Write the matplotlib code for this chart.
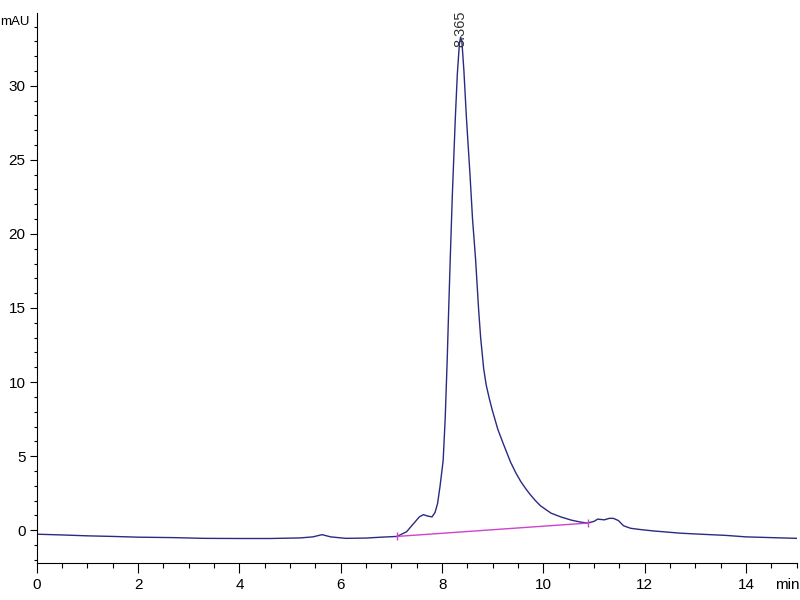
import matplotlib.pyplot as plt
from matplotlib.ticker import MultipleLocator

# chromatogram trace (time in min, signal in mAU)
time_min = [0.0, 0.5, 1.0, 1.5, 2.0, 2.7, 3.3, 4.0, 4.6, 5.2, 5.45, 5.63, 5.8, 6.1,
            6.5, 6.8, 7.11, 7.3, 7.45, 7.55, 7.63, 7.72, 7.8, 7.86, 7.91, 7.96,
            8.02, 8.06, 8.10, 8.13, 8.16, 8.20, 8.26, 8.30, 8.34, 8.365, 8.39,
            8.43, 8.48, 8.55, 8.60, 8.66, 8.72, 8.76, 8.82, 8.87, 8.93, 8.99,
            9.10, 9.20, 9.35, 9.45, 9.55, 9.65, 9.74, 9.84, 9.94, 10.15, 10.34,
            10.55, 10.73, 10.87, 11.0, 11.07, 11.2, 11.3, 11.38, 11.48, 11.58,
            11.72, 11.9, 12.17, 12.7, 13.1, 13.6, 14.0, 14.5, 15.0]
signal_mau = [-0.27, -0.32, -0.38, -0.42, -0.47, -0.5, -0.55, -0.56, -0.56, -0.52,
              -0.45, -0.3, -0.45, -0.55, -0.53, -0.47, -0.42, -0.1, 0.5, 0.9,
              1.05, 0.95, 0.9, 1.2, 1.8, 3.0, 4.7, 7.5, 11.5, 15.0, 18.3, 22.5,
              27.8, 30.8, 32.8, 33.3, 33.0, 31.0, 27.8, 24.0, 21.0, 18.3, 14.9,
              13.0, 10.9, 9.8, 8.9, 8.1, 6.8, 5.9, 4.6, 3.9, 3.3, 2.8, 2.4, 2.0,
              1.65, 1.15, 0.9, 0.68, 0.55, 0.48, 0.6, 0.75, 0.7, 0.8, 0.8, 0.65,
              0.3, 0.13, 0.05, -0.05, -0.2, -0.27, -0.35, -0.45, -0.5, -0.55]

# integration baseline of the main peak
base_time = [7.11, 10.87]
base_signal = [-0.42, 0.48]

peak_time = 8.365
peak_label = '8.365'

plt.rcParams['font.family'] = ['Liberation Sans', 'DejaVu Sans']

fig = plt.figure(figsize=(8, 6), dpi=100)
ax = fig.add_axes([0.046, 0.062, 0.95, 0.916])

ax.plot(time_min, signal_mau, color='#2a2a80', lw=1.0)
ax.plot(base_time, base_signal, color='#cc44cc', lw=1.0, marker='|', ms=6, mew=1.0)

# retention time label above the peak
ax.text(peak_time, 32.6, peak_label, rotation=90, ha='center', va='bottom',
        fontsize=10.5, color='#333333')

ax.set_xlim(0, 15)
ax.set_ylim(-2.2, 34.9)
ax.xaxis.set_major_locator(MultipleLocator(2))
ax.xaxis.set_minor_locator(MultipleLocator(0.5))
ax.yaxis.set_major_locator(MultipleLocator(5))
ax.yaxis.set_minor_locator(MultipleLocator(1))

ax.spines['top'].set_visible(False)
ax.spines['right'].set_visible(False)
ax.tick_params(axis='x', which='major', length=7, width=0.8, labelsize=11, pad=4)
ax.tick_params(axis='x', which='minor', length=3.5, width=0.8)
ax.tick_params(axis='y', which='major', length=5, width=0.8, labelsize=11, pad=3)
ax.tick_params(axis='y', which='minor', length=2.5, width=0.8)

# unit labels at axis ends
ax.annotate('mAU', xy=(0, 34.3), xycoords=('axes fraction', 'data'),
            xytext=(-5, 0), textcoords='offset points', ha='right', va='center',
            fontsize=9.5)
ax.annotate('min', xy=(1, 0), xycoords='axes fraction', xytext=(-7, -11),
            textcoords='offset points', ha='center', va='top', fontsize=11)

fig.savefig('out.png', dpi=100)
